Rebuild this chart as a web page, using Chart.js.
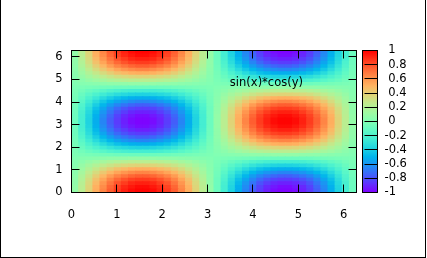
<!DOCTYPE html>
<html>
<head>
<meta charset="utf-8">
<script src="https://cdn.jsdelivr.net/npm/chart.js@4.4.1/dist/chart.umd.min.js"></script>
<style>
  body { margin: 0; background: #fff; }
  #wrap { position: relative; width: 427px; height: 258px; overflow: hidden; background: #fff; }
  #wrap canvas { position: absolute; left: 0; top: 0; }
  #frame { position: absolute; left: 0; top: -1px; width: 426px; height: 259px; box-sizing: border-box; border: 1px solid #000; pointer-events: none; }
</style>
</head>
<body>
<div id="wrap">
  <canvas id="heat" width="427" height="258"></canvas>
  <canvas id="cbox" width="427" height="258"></canvas>
  <div id="frame"></div>
</div>
<script>
const keyLabel = 'sin(x)*cos(y)';
const xTicks = [0, 1, 2, 3, 4, 5, 6];
const yTicks = [0, 1, 2, 3, 4, 5, 6];
const cbTicks = [-1, -0.8, -0.6, -0.4, -0.2, 0, 0.2, 0.4, 0.6, 0.8, 1];
const xRange = [0, 6.2832];
const yRange = [0, 6.2832];
const cbRange = [-1, 1];

// column centres of the pm3d cells
const xCenters = [0.079, 0.236, 0.393, 0.550, 0.707, 0.864, 1.021, 1.178, 1.335, 1.492,
  1.649, 1.806, 1.963, 2.120, 2.278, 2.435, 2.592, 2.749, 2.906, 3.063,
  3.220, 3.377, 3.534, 3.691, 3.848, 4.006, 4.163, 4.320, 4.477, 4.634,
  4.791, 4.948, 5.105, 5.262, 5.419, 5.576, 5.733, 5.890, 6.048, 6.205];

// row edges, bottom to top
const yEdges = [0, 0.157, 0.314, 0.471, 0.628, 0.785, 0.942, 1.100, 1.257, 1.414,
  1.571, 1.728, 1.885, 2.042, 2.199, 2.356, 2.513, 2.670, 2.827, 2.985,
  3.142, 3.299, 3.456, 3.613, 3.770, 3.927, 4.084, 4.241, 4.398, 4.555,
  4.712, 4.869, 5.027, 5.184, 5.341, 5.498, 5.655, 5.812, 5.969, 6.126, 6.2832];

// cell values, one row per yEdges band (bottom row first)
const zRows = [
  [.08,.23,.38,.52,.65,.76,.85,.92,.97,.99,.99,.97,.92,.85,.76,.65,.52,.38,.23,.08,-.08,-.23,-.38,-.52,-.65,-.76,-.85,-.92,-.97,-.99,-.99,-.97,-.92,-.85,-.76,-.65,-.52,-.38,-.23,-.08],
  [.08,.23,.37,.51,.63,.74,.83,.90,.94,.97,.97,.94,.90,.83,.74,.63,.51,.37,.23,.08,-.08,-.23,-.37,-.51,-.63,-.74,-.83,-.90,-.94,-.97,-.97,-.94,-.90,-.83,-.74,-.63,-.51,-.37,-.23,-.08],
  [.07,.22,.35,.48,.60,.70,.79,.85,.90,.92,.92,.90,.85,.79,.70,.60,.48,.35,.22,.07,-.07,-.22,-.35,-.48,-.60,-.70,-.79,-.85,-.90,-.92,-.92,-.90,-.85,-.79,-.70,-.60,-.48,-.35,-.22,-.07],
  [.07,.20,.33,.45,.55,.65,.73,.79,.83,.85,.85,.83,.79,.73,.65,.55,.45,.33,.20,.07,-.07,-.20,-.33,-.45,-.55,-.65,-.73,-.79,-.83,-.85,-.85,-.83,-.79,-.73,-.65,-.55,-.45,-.33,-.20,-.07],
  [.06,.18,.29,.40,.49,.58,.65,.70,.74,.76,.76,.74,.70,.65,.58,.49,.40,.29,.18,.06,-.06,-.18,-.29,-.40,-.49,-.58,-.65,-.70,-.74,-.76,-.76,-.74,-.70,-.65,-.58,-.49,-.40,-.29,-.18,-.06],
  [.05,.15,.25,.34,.42,.49,.55,.60,.63,.65,.65,.63,.60,.55,.49,.42,.34,.25,.15,.05,-.05,-.15,-.25,-.34,-.42,-.49,-.55,-.60,-.63,-.65,-.65,-.63,-.60,-.55,-.49,-.42,-.34,-.25,-.15,-.05],
  [.04,.12,.20,.27,.34,.40,.45,.48,.51,.52,.52,.51,.48,.45,.40,.34,.27,.20,.12,.04,-.04,-.12,-.20,-.27,-.34,-.40,-.45,-.48,-.51,-.52,-.52,-.51,-.48,-.45,-.40,-.34,-.27,-.20,-.12,-.04],
  [.03,.09,.15,.20,.25,.29,.33,.35,.37,.38,.38,.37,.35,.33,.29,.25,.20,.15,.09,.03,-.03,-.09,-.15,-.20,-.25,-.29,-.33,-.35,-.37,-.38,-.38,-.37,-.35,-.33,-.29,-.25,-.20,-.15,-.09,-.03],
  [.02,.05,.09,.12,.15,.18,.20,.22,.23,.23,.23,.23,.22,.20,.18,.15,.12,.09,.05,.02,-.02,-.05,-.09,-.12,-.15,-.18,-.20,-.22,-.23,-.23,-.23,-.23,-.22,-.20,-.18,-.15,-.12,-.09,-.05,-.02],
  [.01,.02,.03,.04,.05,.06,.07,.07,.08,.08,.08,.08,.07,.07,.06,.05,.04,.03,.02,.01,-.01,-.02,-.03,-.04,-.05,-.06,-.07,-.07,-.08,-.08,-.08,-.08,-.07,-.07,-.06,-.05,-.04,-.03,-.02,-.01],
  [-.01,-.02,-.03,-.04,-.05,-.06,-.07,-.07,-.08,-.08,-.08,-.08,-.07,-.07,-.06,-.05,-.04,-.03,-.02,-.01,.01,.02,.03,.04,.05,.06,.07,.07,.08,.08,.08,.08,.07,.07,.06,.05,.04,.03,.02,.01],
  [-.02,-.05,-.09,-.12,-.15,-.18,-.20,-.22,-.23,-.23,-.23,-.23,-.22,-.20,-.18,-.15,-.12,-.09,-.05,-.02,.02,.05,.09,.12,.15,.18,.20,.22,.23,.23,.23,.23,.22,.20,.18,.15,.12,.09,.05,.02],
  [-.03,-.09,-.15,-.20,-.25,-.29,-.33,-.35,-.37,-.38,-.38,-.37,-.35,-.33,-.29,-.25,-.20,-.15,-.09,-.03,.03,.09,.15,.20,.25,.29,.33,.35,.37,.38,.38,.37,.35,.33,.29,.25,.20,.15,.09,.03],
  [-.04,-.12,-.20,-.27,-.34,-.40,-.45,-.48,-.51,-.52,-.52,-.51,-.48,-.45,-.40,-.34,-.27,-.20,-.12,-.04,.04,.12,.20,.27,.34,.40,.45,.48,.51,.52,.52,.51,.48,.45,.40,.34,.27,.20,.12,.04],
  [-.05,-.15,-.25,-.34,-.42,-.49,-.55,-.60,-.63,-.65,-.65,-.63,-.60,-.55,-.49,-.42,-.34,-.25,-.15,-.05,.05,.15,.25,.34,.42,.49,.55,.60,.63,.65,.65,.63,.60,.55,.49,.42,.34,.25,.15,.05],
  [-.06,-.18,-.29,-.40,-.49,-.58,-.65,-.70,-.74,-.76,-.76,-.74,-.70,-.65,-.58,-.49,-.40,-.29,-.18,-.06,.06,.18,.29,.40,.49,.58,.65,.70,.74,.76,.76,.74,.70,.65,.58,.49,.40,.29,.18,.06],
  [-.07,-.20,-.33,-.45,-.55,-.65,-.73,-.79,-.83,-.85,-.85,-.83,-.79,-.73,-.65,-.55,-.45,-.33,-.20,-.07,.07,.20,.33,.45,.55,.65,.73,.79,.83,.85,.85,.83,.79,.73,.65,.55,.45,.33,.20,.07],
  [-.07,-.22,-.35,-.48,-.60,-.70,-.79,-.85,-.90,-.92,-.92,-.90,-.85,-.79,-.70,-.60,-.48,-.35,-.22,-.07,.07,.22,.35,.48,.60,.70,.79,.85,.90,.92,.92,.90,.85,.79,.70,.60,.48,.35,.22,.07],
  [-.08,-.23,-.37,-.51,-.63,-.74,-.83,-.90,-.94,-.97,-.97,-.94,-.90,-.83,-.74,-.63,-.51,-.37,-.23,-.08,.08,.23,.37,.51,.63,.74,.83,.90,.94,.97,.97,.94,.90,.83,.74,.63,.51,.37,.23,.08],
  [-.08,-.23,-.38,-.52,-.65,-.76,-.85,-.92,-.97,-.99,-.99,-.97,-.92,-.85,-.76,-.65,-.52,-.38,-.23,-.08,.08,.23,.38,.52,.65,.76,.85,.92,.97,.99,.99,.97,.92,.85,.76,.65,.52,.38,.23,.08],
  [-.08,-.23,-.38,-.52,-.65,-.76,-.85,-.92,-.97,-.99,-.99,-.97,-.92,-.85,-.76,-.65,-.52,-.38,-.23,-.08,.08,.23,.38,.52,.65,.76,.85,.92,.97,.99,.99,.97,.92,.85,.76,.65,.52,.38,.23,.08],
  [-.08,-.23,-.37,-.51,-.63,-.74,-.83,-.90,-.94,-.97,-.97,-.94,-.90,-.83,-.74,-.63,-.51,-.37,-.23,-.08,.08,.23,.37,.51,.63,.74,.83,.90,.94,.97,.97,.94,.90,.83,.74,.63,.51,.37,.23,.08],
  [-.07,-.22,-.35,-.48,-.60,-.70,-.79,-.85,-.90,-.92,-.92,-.90,-.85,-.79,-.70,-.60,-.48,-.35,-.22,-.07,.07,.22,.35,.48,.60,.70,.79,.85,.90,.92,.92,.90,.85,.79,.70,.60,.48,.35,.22,.07],
  [-.07,-.20,-.33,-.45,-.55,-.65,-.73,-.79,-.83,-.85,-.85,-.83,-.79,-.73,-.65,-.55,-.45,-.33,-.20,-.07,.07,.20,.33,.45,.55,.65,.73,.79,.83,.85,.85,.83,.79,.73,.65,.55,.45,.33,.20,.07],
  [-.06,-.18,-.29,-.40,-.49,-.58,-.65,-.70,-.74,-.76,-.76,-.74,-.70,-.65,-.58,-.49,-.40,-.29,-.18,-.06,.06,.18,.29,.40,.49,.58,.65,.70,.74,.76,.76,.74,.70,.65,.58,.49,.40,.29,.18,.06],
  [-.05,-.15,-.25,-.34,-.42,-.49,-.55,-.60,-.63,-.65,-.65,-.63,-.60,-.55,-.49,-.42,-.34,-.25,-.15,-.05,.05,.15,.25,.34,.42,.49,.55,.60,.63,.65,.65,.63,.60,.55,.49,.42,.34,.25,.15,.05],
  [-.04,-.12,-.20,-.27,-.34,-.40,-.45,-.48,-.51,-.52,-.52,-.51,-.48,-.45,-.40,-.34,-.27,-.20,-.12,-.04,.04,.12,.20,.27,.34,.40,.45,.48,.51,.52,.52,.51,.48,.45,.40,.34,.27,.20,.12,.04],
  [-.03,-.09,-.15,-.20,-.25,-.29,-.33,-.35,-.37,-.38,-.38,-.37,-.35,-.33,-.29,-.25,-.20,-.15,-.09,-.03,.03,.09,.15,.20,.25,.29,.33,.35,.37,.38,.38,.37,.35,.33,.29,.25,.20,.15,.09,.03],
  [-.02,-.05,-.09,-.12,-.15,-.18,-.20,-.22,-.23,-.23,-.23,-.23,-.22,-.20,-.18,-.15,-.12,-.09,-.05,-.02,.02,.05,.09,.12,.15,.18,.20,.22,.23,.23,.23,.23,.22,.20,.18,.15,.12,.09,.05,.02],
  [-.01,-.02,-.03,-.04,-.05,-.06,-.07,-.07,-.08,-.08,-.08,-.08,-.07,-.07,-.06,-.05,-.04,-.03,-.02,-.01,.01,.02,.03,.04,.05,.06,.07,.07,.08,.08,.08,.08,.07,.07,.06,.05,.04,.03,.02,.01],
  [.01,.02,.03,.04,.05,.06,.07,.07,.08,.08,.08,.08,.07,.07,.06,.05,.04,.03,.02,.01,-.01,-.02,-.03,-.04,-.05,-.06,-.07,-.07,-.08,-.08,-.08,-.08,-.07,-.07,-.06,-.05,-.04,-.03,-.02,-.01],
  [.02,.05,.09,.12,.15,.18,.20,.22,.23,.23,.23,.23,.22,.20,.18,.15,.12,.09,.05,.02,-.02,-.05,-.09,-.12,-.15,-.18,-.20,-.22,-.23,-.23,-.23,-.23,-.22,-.20,-.18,-.15,-.12,-.09,-.05,-.02],
  [.03,.09,.15,.20,.25,.29,.33,.35,.37,.38,.38,.37,.35,.33,.29,.25,.20,.15,.09,.03,-.03,-.09,-.15,-.20,-.25,-.29,-.33,-.35,-.37,-.38,-.38,-.37,-.35,-.33,-.29,-.25,-.20,-.15,-.09,-.03],
  [.04,.12,.20,.27,.34,.40,.45,.48,.51,.52,.52,.51,.48,.45,.40,.34,.27,.20,.12,.04,-.04,-.12,-.20,-.27,-.34,-.40,-.45,-.48,-.51,-.52,-.52,-.51,-.48,-.45,-.40,-.34,-.27,-.20,-.12,-.04],
  [.05,.15,.25,.34,.42,.49,.55,.60,.63,.65,.65,.63,.60,.55,.49,.42,.34,.25,.15,.05,-.05,-.15,-.25,-.34,-.42,-.49,-.55,-.60,-.63,-.65,-.65,-.63,-.60,-.55,-.49,-.42,-.34,-.25,-.15,-.05],
  [.06,.18,.29,.40,.49,.58,.65,.70,.74,.76,.76,.74,.70,.65,.58,.49,.40,.29,.18,.06,-.06,-.18,-.29,-.40,-.49,-.58,-.65,-.70,-.74,-.76,-.76,-.74,-.70,-.65,-.58,-.49,-.40,-.29,-.18,-.06],
  [.07,.20,.33,.45,.55,.65,.73,.79,.83,.85,.85,.83,.79,.73,.65,.55,.45,.33,.20,.07,-.07,-.20,-.33,-.45,-.55,-.65,-.73,-.79,-.83,-.85,-.85,-.83,-.79,-.73,-.65,-.55,-.45,-.33,-.20,-.07],
  [.07,.22,.35,.48,.60,.70,.79,.85,.90,.92,.92,.90,.85,.79,.70,.60,.48,.35,.22,.07,-.07,-.22,-.35,-.48,-.60,-.70,-.79,-.85,-.90,-.92,-.92,-.90,-.85,-.79,-.70,-.60,-.48,-.35,-.22,-.07],
  [.08,.23,.37,.51,.63,.74,.83,.90,.94,.97,.97,.94,.90,.83,.74,.63,.51,.37,.23,.08,-.08,-.23,-.37,-.51,-.63,-.74,-.83,-.90,-.94,-.97,-.97,-.94,-.90,-.83,-.74,-.63,-.51,-.37,-.23,-.08],
  [.08,.23,.38,.52,.65,.76,.85,.92,.97,.99,.99,.97,.92,.85,.76,.65,.52,.38,.23,.08,-.08,-.23,-.38,-.52,-.65,-.76,-.85,-.92,-.97,-.99,-.99,-.97,-.92,-.85,-.76,-.65,-.52,-.38,-.23,-.08]
];

// gnuplot rainbow palette (rgbformulae 33,13,10), 17 stops from -1 to 1
const paletteStops = [
  [128, 0, 255], [96, 50, 254], [64, 98, 250], [32, 142, 244], [0, 180, 236],
  [32, 212, 225], [64, 236, 212], [96, 250, 197], [128, 255, 180], [159, 250, 162],
  [191, 236, 142], [223, 212, 120], [255, 180, 98], [255, 142, 74], [255, 98, 50],
  [255, 50, 25], [255, 0, 0]
];

function colorFor(z) {
  let t = (z - cbRange[0]) / (cbRange[1] - cbRange[0]);
  t = Math.max(0, Math.min(1, t));
  const pos = t * (paletteStops.length - 1);
  const k = Math.min(Math.floor(pos), paletteStops.length - 2);
  const f = pos - k;
  const a = paletteStops[k], b = paletteStops[k + 1];
  const c = a.map((v, n) => Math.round(v + (b[n] - v) * f));
  return `rgb(${c[0]},${c[1]},${c[2]})`;
}

Chart.defaults.font.family = '"DejaVu Sans", sans-serif';
Chart.defaults.font.size = 11.5;
Chart.defaults.color = '#000';

function crisp(v) {
  return Math.round(v - 0.5) + 0.5;
}

// border, inward mirrored tics and the key text
const frameTics = {
  id: 'frameTics',
  afterDatasetsDraw(chart) {
    const { ctx, chartArea: a, scales: { x, y } } = chart;
    ctx.save();
    ctx.strokeStyle = '#000';
    ctx.lineWidth = 1;
    ctx.beginPath();
    xTicks.forEach(v => {
      const px = crisp(x.getPixelForValue(v));
      ctx.moveTo(px, a.bottom); ctx.lineTo(px, a.bottom - 8);
      ctx.moveTo(px, a.top); ctx.lineTo(px, a.top + 8);
    });
    yTicks.forEach(v => {
      const py = crisp(y.getPixelForValue(v));
      ctx.moveTo(a.left, py); ctx.lineTo(a.left + 8, py);
      ctx.moveTo(a.right, py); ctx.lineTo(a.right - 8, py);
    });
    ctx.stroke();
    ctx.strokeRect(a.left, a.top, a.right - a.left, a.bottom - a.top);

    ctx.fillStyle = '#000';
    ctx.font = '11.5px "DejaVu Sans", sans-serif';
    ctx.textAlign = 'right';
    ctx.textBaseline = 'middle';
    ctx.fillText(keyLabel, a.right - 53.5, a.top + 32.5);
    ctx.restore();
  }
};

const heatDatasets = zRows.map((row, j) => ({
  data: xCenters.map(x => ({ x: x, y: [yEdges[j], yEdges[j + 1]] })),
  backgroundColor: row.map(colorFor),
  borderWidth: 0,
  barPercentage: 1,
  categoryPercentage: 1,
  grouped: false,
  inflateAmount: 0.5
}));

new Chart(document.getElementById('heat'), {
  type: 'bar',
  data: { datasets: heatDatasets },
  options: {
    responsive: false,
    animation: false,
    devicePixelRatio: 1,
    layout: { padding: { top: 50.5, right: 70.5, bottom: 0, left: 0 } },
    plugins: { legend: { display: false }, tooltip: { enabled: false } },
    scales: {
      x: {
        type: 'linear',
        min: xRange[0],
        max: xRange[1],
        offset: false,
        grid: { display: false, drawTicks: false },
        border: { display: false },
        ticks: { padding: 16, maxRotation: 0, autoSkip: false },
        afterBuildTicks: s => { s.ticks = xTicks.map(v => ({ value: v })); },
        afterFit: s => { s.height = 65.5; }
      },
      y: {
        type: 'linear',
        min: yRange[0],
        max: yRange[1],
        grid: { display: false, drawTicks: false },
        border: { display: false },
        ticks: { padding: 9, autoSkip: false },
        afterBuildTicks: s => { s.ticks = yTicks.map(v => ({ value: v })); },
        afterFit: s => { s.width = 71.5; }
      }
    }
  },
  plugins: [frameTics]
});

// colour box
const cbFrame = {
  id: 'cbFrame',
  afterDatasetsDraw(chart) {
    const { ctx, chartArea: a, scales: { y } } = chart;
    ctx.save();
    ctx.strokeStyle = '#000';
    ctx.lineWidth = 1;
    ctx.beginPath();
    cbTicks.forEach(v => {
      const py = crisp(y.getPixelForValue(v));
      ctx.moveTo(a.left + 2, py); ctx.lineTo(a.right, py);
    });
    ctx.stroke();
    ctx.strokeRect(a.left, a.top, a.right - a.left, a.bottom - a.top);
    ctx.restore();
  }
};

function cbGradient(context) {
  const chart = context.chart;
  if (!chart.chartArea) return colorFor(0);
  const y = chart.scales.y;
  const g = chart.ctx.createLinearGradient(0, y.getPixelForValue(cbRange[0]), 0, y.getPixelForValue(cbRange[1]));
  paletteStops.forEach((c, k) => {
    g.addColorStop(k / (paletteStops.length - 1), `rgb(${c[0]},${c[1]},${c[2]})`);
  });
  return g;
}

new Chart(document.getElementById('cbox'), {
  type: 'bar',
  data: {
    labels: ['cb'],
    datasets: [{
      data: [cbRange],
      backgroundColor: cbGradient,
      borderWidth: 0,
      barPercentage: 1,
      categoryPercentage: 1
    }]
  },
  options: {
    responsive: false,
    animation: false,
    devicePixelRatio: 1,
    layout: { padding: { top: 50.5, right: 0, bottom: 65.5, left: 362.5 } },
    plugins: { legend: { display: false }, tooltip: { enabled: false } },
    scales: {
      x: { display: false },
      y: {
        position: 'right',
        min: cbRange[0],
        max: cbRange[1],
        grid: { display: false, drawTicks: false },
        border: { display: false },
        ticks: {
          padding: 7,
          autoSkip: false,
          callback: v => (v < 0 ? '' : ' ') + String(v)
        },
        afterBuildTicks: s => { s.ticks = cbTicks.map(v => ({ value: v })); },
        afterFit: s => { s.width = 49.5; }
      }
    }
  },
  plugins: [cbFrame]
});
</script>
</body>
</html>
